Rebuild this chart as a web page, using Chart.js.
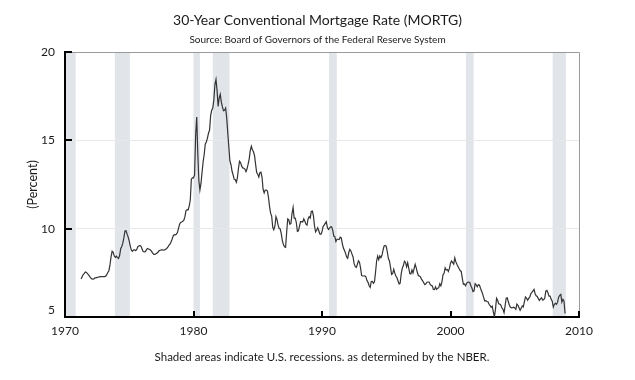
<!DOCTYPE html>
<html>
<head>
<meta charset="utf-8">
<script src="https://cdn.jsdelivr.net/npm/chart.js@4"></script>
<style>
  html, body { margin: 0; padding: 0; background: #fff; }
  #chart { display: block; }
</style>
</head>
<body>
<canvas id="chart" width="635" height="380"></canvas>
<script>
// monthly values, first one is April 1971
const firstYear = 1971;
const firstMonth = 4;

const rates1970s = [
    7.15, 7.28, 7.40, 7.47, 7.55, 7.52, 7.45, 7.38, 7.30,
    7.22, 7.15, 7.14, 7.15, 7.22, 7.22, 7.24, 7.25, 7.27, 7.28, 7.28, 7.28,
    7.29, 7.29, 7.31, 7.40, 7.52, 7.62, 7.95, 8.40, 8.72, 8.66, 8.45, 8.38,
    8.44, 8.36, 8.31, 8.48, 8.87, 8.99, 9.18, 9.49, 9.87, 9.88, 9.69, 9.52,
    9.30, 9.00, 8.78, 8.72, 8.80, 8.80, 8.75, 8.82, 8.98, 9.02, 9.05, 9.00,
    8.85, 8.70, 8.68, 8.70, 8.80, 8.88, 8.85, 8.82, 8.78, 8.70, 8.60, 8.55,
    8.55, 8.58, 8.62, 8.68, 8.76, 8.78, 8.80, 8.80, 8.78, 8.80, 8.83, 8.88,
    8.95, 9.05, 9.12, 9.25, 9.40, 9.58, 9.66, 9.65, 9.68, 9.78, 10.02, 10.25,
    10.35, 10.38, 10.42, 10.48, 10.68, 11.02, 11.08, 11.07, 11.28, 11.62, 12.80, 12.88
];
const rates1980s = [
    12.88, 13.04, 15.28, 16.32, 14.26, 12.71, 12.19, 12.56, 13.20, 13.79, 14.21, 14.79,
    14.90, 15.13, 15.40, 15.58, 16.40, 16.70, 16.83, 17.29, 18.16, 18.45, 17.83, 16.92,
    17.40, 17.60, 17.16, 16.89, 16.68, 16.70, 16.82, 16.27, 15.43, 14.61, 13.83, 13.62,
    13.25, 13.04, 12.80, 12.78, 12.63, 12.87, 13.42, 13.81, 13.73, 13.54, 13.44, 13.42,
    13.37, 13.23, 13.39, 13.65, 13.94, 14.42, 14.67, 14.47, 14.35, 14.13, 13.64, 13.18,
    13.08, 12.92, 13.17, 13.20, 12.91, 12.22, 12.03, 12.19, 12.19, 12.14, 11.78, 11.26,
    10.88, 10.71, 10.08, 9.94, 10.14, 10.68, 10.51, 10.20, 10.01, 9.98, 9.70, 9.31,
    9.10, 8.98, 8.95, 9.80, 10.55, 10.50, 10.25, 10.30, 10.85, 11.20, 10.60, 10.60,
    10.35, 9.85, 9.88, 10.15, 10.40, 10.40, 10.38, 10.55, 10.42, 10.25, 10.20, 10.55,
    10.68, 10.60, 10.98, 11.00, 10.72, 10.15, 9.82, 9.92, 10.05, 9.88, 9.70, 9.68
];
const rates1990s = [
    9.82, 10.12, 10.20, 10.30, 10.40, 10.08, 9.96, 10.02, 10.10, 10.10, 9.92, 9.58,
    9.55, 9.28, 9.40, 9.40, 9.38, 9.52, 9.48, 9.14, 8.90, 8.76, 8.60, 8.40,
    8.32, 8.65, 8.83, 8.74, 8.56, 8.40, 8.02, 7.86, 7.80, 7.97, 8.18, 8.10,
    7.78, 7.34, 7.32, 7.32, 7.33, 7.28, 7.06, 6.96, 6.77, 6.68, 7.01, 7.02,
    6.91, 7.00, 7.53, 8.17, 8.45, 8.25, 8.46, 8.36, 8.49, 8.78, 9.02, 9.05,
    9.00, 8.68, 8.31, 8.17, 7.81, 7.41, 7.45, 7.70, 7.48, 7.32, 7.22, 7.04,
    6.87, 6.92, 7.46, 7.77, 7.91, 8.16, 8.09, 7.84, 8.07, 7.76, 7.46, 7.44,
    7.66, 7.49, 7.74, 7.98, 7.78, 7.53, 7.34, 7.32, 7.27, 7.13, 7.05, 6.94,
    6.83, 6.88, 6.97, 6.98, 6.98, 6.84, 6.79, 6.76, 6.56, 6.55, 6.71, 6.56,
    6.63, 6.65, 6.88, 6.76, 6.99, 7.39, 7.47, 7.78, 7.66, 7.69, 7.58, 7.75
];
const rates2000s = [
    8.05, 8.17, 8.08, 7.99, 8.35, 8.12, 7.98, 7.86, 7.74, 7.63, 7.58, 7.20,
    6.85, 6.87, 6.77, 6.90, 6.97, 6.98, 6.95, 6.77, 6.64, 6.44, 6.48, 6.89,
    6.82, 6.71, 6.83, 6.81, 6.63, 6.47, 6.31, 6.10, 5.90, 5.92, 5.88, 5.86,
    5.72, 5.64, 5.55, 5.61, 5.28, 5.02, 5.43, 6.06, 5.95, 5.75, 5.73, 5.68,
    5.51, 5.44, 5.25, 5.63, 6.07, 6.09, 5.86, 5.67, 5.55, 5.52, 5.53, 5.55,
    5.51, 5.43, 5.73, 5.66, 5.52, 5.38, 5.50, 5.62, 5.57, 5.87, 6.13, 6.07,
    5.95, 6.05, 6.12, 6.31, 6.40, 6.48, 6.56, 6.32, 6.20, 6.16, 6.04, 5.94,
    6.02, 6.09, 5.96, 5.98, 6.06, 6.46, 6.50, 6.37, 6.18, 6.18, 6.01, 5.90,
    5.56, 5.72, 5.77, 5.72, 5.84, 6.12, 6.23, 6.28, 5.84, 6.00, 5.89, 5.20
];

// NBER recessions (decimal years)
const recessionStart = [1969.92, 1973.88, 1980.0, 1981.5, 1990.55, 2001.2, 2007.95];
const recessionEnd   = [1970.83, 1975.05, 1980.5, 1982.8, 1991.15, 2001.8, 2008.98];

const yTicks = [5, 10, 15, 20];
const xTicks = [1970, 1980, 1990, 2000, 2010];

const rates = [...rates1970s, ...rates1980s, ...rates1990s, ...rates2000s];
const points = rates.map((v, i) => ({ x: firstYear + (firstMonth - 1 + i) / 12, y: v }));

Chart.defaults.font.family = 'Lato, "Open Sans", sans-serif';
Chart.defaults.color = '#1a1a1a';

const bands = {
    id: 'bands',
    beforeDraw(chart) {
        const { ctx, chartArea: a, scales: { x } } = chart;
        ctx.save();
        ctx.beginPath();
        ctx.rect(a.left, a.top, a.width, a.height);
        ctx.clip();
        ctx.fillStyle = '#e1e5ea';
        recessionStart.forEach((s, i) => {
            const x1 = x.getPixelForValue(s);
            const x2 = x.getPixelForValue(recessionEnd[i]);
            ctx.fillRect(x1, a.top, x2 - x1, a.height);
        });
        ctx.restore();
    },
    afterDraw(chart) {
        const { ctx, chartArea: a, scales: { x, y } } = chart;
        ctx.save();
        // frame top / right
        ctx.strokeStyle = '#9a9a9a';
        ctx.lineWidth = 1;
        ctx.beginPath();
        ctx.moveTo(a.left, a.top + 0.5);
        ctx.lineTo(a.right + 0.5, a.top + 0.5);
        ctx.lineTo(a.right + 0.5, a.bottom);
        ctx.stroke();
        // ticks drawn inside the plot
        ctx.strokeStyle = '#000';
        ctx.lineWidth = 2;
        ctx.beginPath();
        yTicks.forEach(t => {
            if (t === 5) return;
            const py = Math.round(y.getPixelForValue(t));
            ctx.moveTo(a.left, py);
            ctx.lineTo(a.left + 7, py);
        });
        xTicks.forEach(t => {
            if (t === 1970) return;
            const px = Math.round(x.getPixelForValue(t));
            ctx.moveTo(px, a.bottom);
            ctx.lineTo(px, a.bottom - 6);
        });
        ctx.stroke();
        ctx.restore();
    }
};

const ctx = document.getElementById('chart').getContext('2d');
new Chart(ctx, {
    type: 'line',
    data: {
        datasets: [{
            label: 'MORTG',
            data: points,
            borderColor: '#333333',
            borderWidth: 1.2,
            pointRadius: 0,
            fill: false,
            tension: 0
        }]
    },
    options: {
        responsive: false,
        animation: false,
        devicePixelRatio: 1,
        layout: { padding: 0 },
        scales: {
            x: {
                type: 'linear',
                min: 1970,
                max: 2010,
                afterBuildTicks: s => { s.ticks = xTicks.map(v => ({ value: v })); },
                afterFit: s => { s.height = 63; },
                grid: { display: false, drawTicks: false },
                border: { color: '#000', width: 2 },
                ticks: {
                    padding: 7,
                    font: { size: 12 },
                    maxRotation: 0,
                    callback: v => String(v)
                },
                title: {
                    display: true,
                    text: 'Shaded areas indicate U.S. recessions. as determined by the NBER.',
                    font: { size: 11.5 },
                    padding: { top: 4, bottom: 16 }
                }
            },
            y: {
                min: 5,
                max: 20,
                afterBuildTicks: s => { s.ticks = yTicks.map(v => ({ value: v })); },
                afterFit: s => { s.width = 65; },
                grid: {
                    drawTicks: false,
                    color: c => (c.tick && (c.tick.value === 10 || c.tick.value === 15)) ? '#e8e8e8' : 'rgba(0,0,0,0)'
                },
                border: { color: '#000', width: 2 },
                ticks: {
                    padding: 10,
                    font: { size: 12 },
                    callback: v => v === 5 ? ['5', ''] : String(v)
                },
                title: {
                    display: true,
                    text: '(Percent)',
                    font: { size: 12.5 },
                    padding: { top: 25, bottom: 0 }
                }
            },
            // empty right margin
            side: {
                position: 'right',
                min: 0,
                max: 1,
                afterFit: s => { s.width = 56; },
                grid: { display: false, drawTicks: false },
                border: { display: false },
                ticks: { display: false }
            }
        },
        plugins: {
            legend: { display: false },
            tooltip: { enabled: false },
            title: {
                display: true,
                text: '30-Year Conventional Mortgage Rate (MORTG)',
                font: { size: 14, weight: 'normal' },
                color: '#1a1a1a',
                padding: { top: 11.6, bottom: 2 }
            },
            subtitle: {
                display: true,
                text: 'Source: Board of Governors of the Federal Reserve System',
                font: { size: 10 },
                color: '#1a1a1a',
                padding: { top: 3.6, bottom: 6 }
            }
        }
    },
    plugins: [bands]
});
</script>
</body>
</html>
